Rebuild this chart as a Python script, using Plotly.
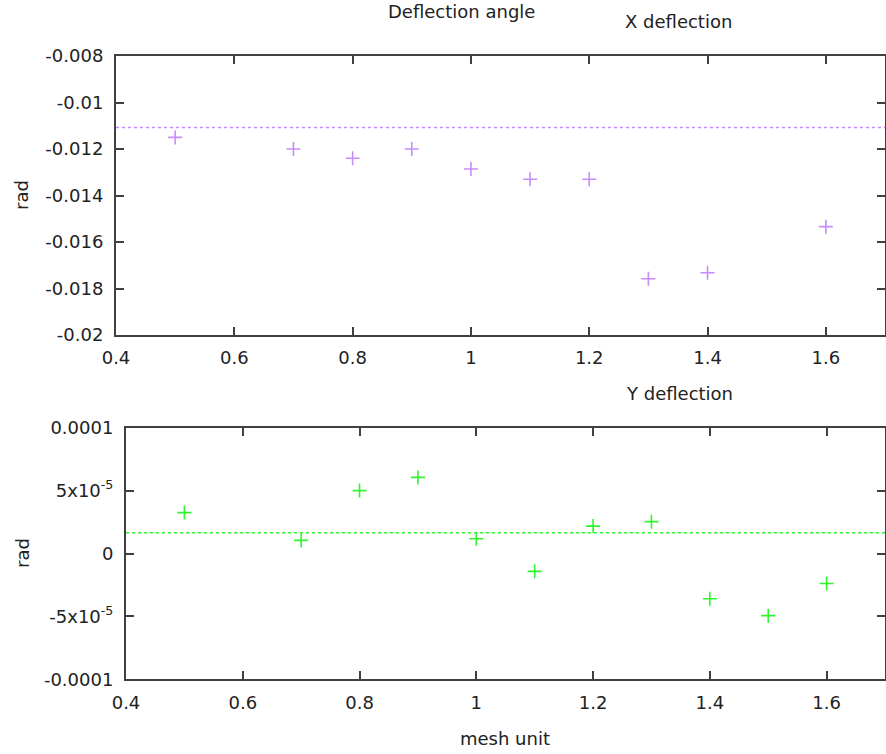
import plotly.graph_objects as go

# ---- data ----
x_top = [0.5, 0.7, 0.8, 0.9, 1.0, 1.1, 1.2, 1.3, 1.4, 1.6]
y_top = [-0.01150, -0.01200, -0.01240, -0.01200, -0.01286, -0.01330, -0.01330, -0.01758, -0.01732, -0.01534]
mean_top = -0.01108

x_bot = [0.5, 0.7, 0.8, 0.9, 1.0, 1.1, 1.2, 1.3, 1.4, 1.5, 1.6]
y_bot = [3.25e-5, 1.04e-5, 5.0e-5, 6.05e-5, 1.17e-5, -1.42e-5, 2.18e-5, 2.53e-5, -3.6e-5, -4.94e-5, -2.38e-5]
mean_bot = 1.65e-5

x_range = [0.4, 1.7]
x_tickvals = [0.4, 0.6, 0.8, 1.0, 1.2, 1.4, 1.6]
x_ticktext = ["0.4", "0.6", "0.8", "1", "1.2", "1.4", "1.6"]

ytop_tickvals = [-0.008, -0.010, -0.012, -0.014, -0.016, -0.018, -0.020]
ytop_ticktext = ["-0.008", "-0.01", "-0.012", "-0.014", "-0.016", "-0.018", "-0.02"]

ybot_tickvals = [1e-4, 5e-5, 0, -5e-5, -1e-4]
ybot_ticktext = ["0.0001", "5x10<sup>-5</sup>", "0", "-5x10<sup>-5</sup>", "-0.0001"]

title_main = "Deflection angle"
title_top = "X deflection"
title_bot = "Y deflection"
xlabel = "mesh unit"
ylabel = "rad"

PURPLE = "#c68cff"
GREEN = "#2ef52e"
FRAME = "#404040"
TXT = "#222222"
FONT = "DejaVu Sans"
FS = 18

W, H = 886, 754


def fx(px):
    return px / W


def fy(py):
    return 1 - py / H


fig = go.Figure()

fig.add_trace(go.Scatter(
    x=x_top, y=y_top, mode="markers", xaxis="x", yaxis="y",
    marker=dict(symbol="cross-thin", size=10, line=dict(color=PURPLE, width=1.6), color=PURPLE),
    showlegend=False))
fig.add_trace(go.Scatter(
    x=x_range, y=[mean_top, mean_top], mode="lines", xaxis="x", yaxis="y",
    line=dict(color=PURPLE, width=1.5, dash="dot"), showlegend=False))

fig.add_trace(go.Scatter(
    x=x_bot, y=y_bot, mode="markers", xaxis="x2", yaxis="y2",
    marker=dict(symbol="cross-thin", size=10, line=dict(color=GREEN, width=1.6), color=GREEN),
    showlegend=False))
fig.add_trace(go.Scatter(
    x=x_range, y=[mean_bot, mean_bot], mode="lines", xaxis="x2", yaxis="y2",
    line=dict(color=GREEN, width=1.5, dash="dot"), showlegend=False))

axis_common = dict(
    showline=True, linecolor=FRAME, linewidth=2, mirror="allticks",
    ticks="inside", ticklen=8, tickwidth=2, tickcolor=FRAME,
    showgrid=False, zeroline=False, automargin=False,
    tickfont=dict(family=FONT, size=FS, color=TXT),
)

fig.update_layout(
    template="none",
    width=W, height=H,
    margin=dict(l=0, r=0, t=0, b=0),
    paper_bgcolor="white", plot_bgcolor="white",
    font=dict(family=FONT, size=FS, color=TXT),
    xaxis=dict(domain=[fx(116), fx(885)], range=x_range, tickmode="array",
               tickvals=x_tickvals, ticktext=x_ticktext, anchor="y",
               ticklabelstandoff=5, **axis_common),
    yaxis=dict(domain=[fy(335), fy(56)], range=[-0.020, -0.008], tickmode="array",
               tickvals=ytop_tickvals, ticktext=ytop_ticktext, anchor="x",
               ticklabelstandoff=7, **axis_common),
    xaxis2=dict(domain=[fx(126), fx(885)], range=x_range, tickmode="array",
                tickvals=x_tickvals, ticktext=x_ticktext, anchor="y2",
                ticklabelstandoff=6, **axis_common),
    yaxis2=dict(domain=[fy(679.3), fy(427.7)], range=[-1e-4, 1e-4], tickmode="array",
                tickvals=ybot_tickvals, ticktext=ybot_ticktext, anchor="x2",
                ticklabelstandoff=7, **axis_common),
)


def ann(text, x, y, angle=0):
    fig.add_annotation(text=text, x=fx(x), y=fy(y), xref="paper", yref="paper",
                       showarrow=False, textangle=angle, xanchor="center", yanchor="middle",
                       font=dict(family=FONT, size=FS, color=TXT))


ann(title_main, 461, 12)
ann(title_top, 678, 22)
ann(title_bot, 679, 393)
ann(xlabel, 505, 738)
ann(ylabel, 22, 195, -90)
ann(ylabel, 22, 553, -90)

# remove the default page margin so the figure sits at the window's top-left corner
fig.write_html(
    "out.html",
    config={"displayModeBar": False},
    post_script="document.body.style.margin='0px';document.body.style.overflow='hidden';",
)
